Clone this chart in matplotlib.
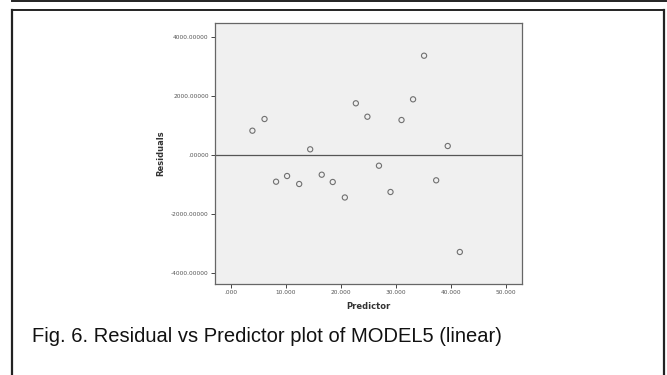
import matplotlib
matplotlib.use("Agg")
import matplotlib.pyplot as plt
from matplotlib.lines import Line2D

predictor = [3.9, 6.1, 8.2, 10.2, 12.4, 14.4, 16.5, 18.5, 20.7, 22.7, 24.8,
             26.9, 29.0, 31.0, 33.1, 35.1, 37.3, 39.4, 41.6]
residuals = [824, 1220, -905, -712, -983, 193, -668, -915, -1440, 1753, 1298,
             -363, -1254, 1186, 1888, 3366, -858, 305, -3288]
yticks = [-4000, -2000, 0, 2000, 4000]
ytick_labels = ["-4000.00000", "-2000.00000", ".00000", "2000.00000", "4000.00000"]
xticks = [0, 10, 20, 30, 40, 50]
xtick_labels = [".000", "10.000", "20.000", "30.000", "40.000", "50.000"]

W, H = 667, 375
fig = plt.figure(figsize=(W / 100, H / 100), dpi=100)
fig.patch.set_facecolor("white")

ax = fig.add_axes([215 / W, 1 - 284 / H, (522 - 215) / W, (284 - 23) / H])
ax.set_facecolor("#f0f0f0")
ax.scatter(predictor, residuals, s=14, facecolors="none", edgecolors="#707070",
           linewidths=0.8, zorder=3)
ax.axhline(0, color="#555555", linewidth=0.9, zorder=2)
ax.set_xlim(-2.9, 52.9)
ax.set_ylim(-4373, 4475)
ax.set_yticks(yticks)
ax.set_yticklabels(ytick_labels)
ax.set_xticks(xticks)
ax.set_xticklabels(xtick_labels)
ax.tick_params(axis="both", direction="out", length=3, width=0.7, color="#444444",
               labelsize=4.2, labelcolor="#555555", pad=1.5)
for sp in ax.spines.values():
    sp.set_color("#666666")
    sp.set_linewidth(0.9)
ax.set_xlabel("Predictor", fontsize=6, fontweight="bold", color="#333333", labelpad=5)
ax.set_ylabel("Residuals", fontsize=6, fontweight="bold", color="#333333", labelpad=4)

fig.text(32 / W, 1 - 336 / H, "Fig. 6. Residual vs Predictor plot of MODEL5 (linear)",
         fontsize=14.5, family="Liberation Sans", color="#111111", va="center", ha="left")

# outer frame
fig.add_artist(Line2D([12 / W, 12 / W], [0, 1 - 10 / H], transform=fig.transFigure,
                      color="#222222", linewidth=1.6))
fig.add_artist(Line2D([664 / W, 664 / W], [0, 1 - 10 / H], transform=fig.transFigure,
                      color="#222222", linewidth=1.6))
fig.add_artist(Line2D([12 / W, 664 / W], [1 - 10 / H, 1 - 10 / H], transform=fig.transFigure,
                      color="#222222", linewidth=1.4))
fig.add_artist(Line2D([12 / W, 666 / W], [1 - 0.6 / H, 1 - 0.6 / H], transform=fig.transFigure,
                      color="#222222", linewidth=1.4))

fig.savefig("out.png", dpi=100)
